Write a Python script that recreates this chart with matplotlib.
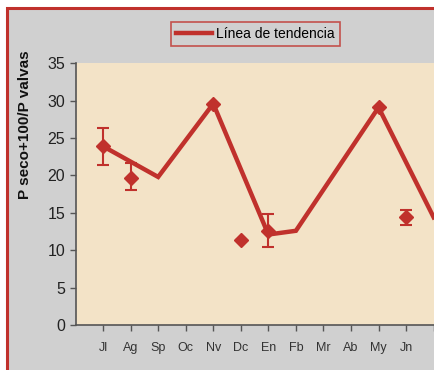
import numpy as np
import matplotlib
matplotlib.use("Agg")
import matplotlib.pyplot as plt
from matplotlib.patches import Rectangle

plt.rcParams['font.family'] = ['Liberation Sans', 'DejaVu Sans']

months = ["Jl", "Ag", "Sp", "Oc", "Nv", "Dc", "En", "Fb", "Mr", "Ab", "My", "Jn"]

# puntos medidos (posicion del mes, valor, error inferior, error superior)
pt_pos = [1, 2, 5, 6, 7, 11, 12]
pt_val = [23.9, 19.7, 29.6, 11.4, 12.6, 29.1, 14.4]
pt_lo = [2.5, 1.7, 0.0, 0.0, 2.2, 0.0, 1.0]
pt_hi = [2.5, 2.0, 0.0, 0.0, 2.2, 0.0, 1.0]

# linea de tendencia
tr_pos = [1, 3, 5, 7, 8, 11, 13]
tr_val = [23.9, 19.8, 29.6, 12.1, 12.6, 29.1, 14.4]

red = "#c0312c"
gray = "#d0d0d0"

fig = plt.figure(figsize=(4.34, 3.70), dpi=100)
fig.patch.set_facecolor("white")
# marco gris con borde rojo (cortado a la derecha y abajo)
fig.patches.append(Rectangle((6.5 / 434, -0.1), 1.2, 1 - 7.5 / 370 + 0.1,
                             transform=fig.transFigure, facecolor=gray,
                             edgecolor=red, linewidth=2.2, zorder=-5))

ax = fig.add_axes([75.5 / 434, 45 / 370, 385.7 / 434, 261.7 / 370])
ax.set_zorder(2)
ax.set_facecolor("#f3e3c7")
ax.set_xlim(0, 14)
ax.set_ylim(0, 35)

ax.plot(tr_pos, tr_val, color=red, lw=3.2, label="Línea de tendencia",
        solid_joinstyle="miter", zorder=3, clip_on=False)
ax.errorbar(pt_pos, pt_val, yerr=[pt_lo, pt_hi], fmt="D", color=red,
            ms=7, capsize=4, elinewidth=1.5, capthick=1.5, zorder=4)

ax.set_xticks(range(1, 14))
ax.set_xticklabels(months + [""], fontsize=9, color="#333333")
ax.set_yticks(range(0, 36, 5))
ax.tick_params(axis="y", labelsize=11.5, colors="#222222", length=4, width=1)
ax.tick_params(axis="x", length=4, width=1, pad=8)
ax.tick_params(axis="both", color="#555555")
for s in ["top", "right"]:
    ax.spines[s].set_visible(False)
for s in ["left", "bottom"]:
    ax.spines[s].set_color("#555555")
    ax.spines[s].set_linewidth(1.2)

ax.set_ylabel("P seco+100/P valvas", fontsize=11, fontweight="bold",
              color="#111111")
ax.yaxis.set_label_coords(-0.112, 0.764)

leg = fig.legend(loc="center", bbox_to_anchor=(255.5 / 434, 1 - 34 / 370),
                 fontsize=10, frameon=True, fancybox=False,
                 handlelength=2.6, borderpad=0.35, handletextpad=0.3)
leg.set_zorder(3)
leg.get_frame().set_facecolor(gray)
leg.get_frame().set_edgecolor(red)
leg.get_frame().set_linewidth(1.2)

fig.savefig("out.png", dpi=100)
